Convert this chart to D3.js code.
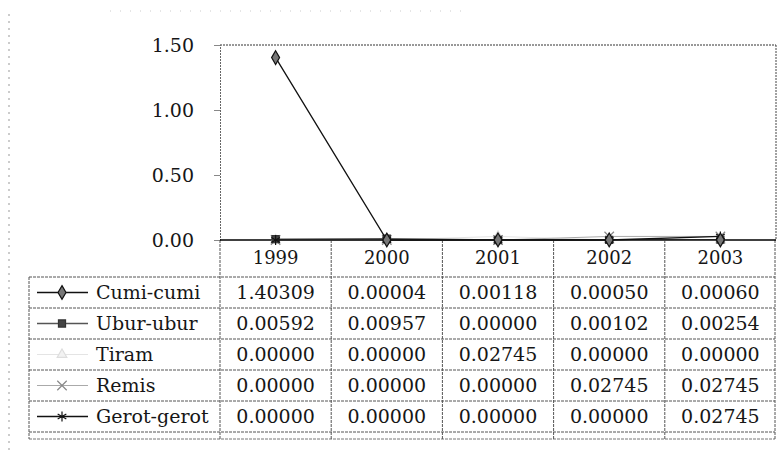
<!DOCTYPE html>
<html lang="id">
<head>
<meta charset="utf-8">
<title>Cumi-cumi, Ubur-ubur, Tiram, Remis, Gerot-gerot 1999-2003</title>
<script src="https://d3js.org/d3.v7.min.js"></script>
<style>
  body { margin: 0; background: #fff; }
  text { font-family: "DejaVu Serif", "Liberation Serif", serif; fill: #161616; }
</style>
</head>
<body>
<svg id="chart" width="779" height="452"></svg>
<script>
// data
var years = ["1999", "2000", "2001", "2002", "2003"];
var seriesNames = ["Cumi-cumi", "Ubur-ubur", "Tiram", "Remis", "Gerot-gerot"];
var cumiCumi   = [1.40309, 0.00004, 0.00118, 0.00050, 0.00060];
var uburUbur   = [0.00592, 0.00957, 0.00000, 0.00102, 0.00254];
var tiram      = [0.00000, 0.00000, 0.02745, 0.00000, 0.00000];
var remis      = [0.00000, 0.00000, 0.00000, 0.02745, 0.02745];
var gerotGerot = [0.00000, 0.00000, 0.00000, 0.00000, 0.02745];
var yTicks = [0, 0.5, 1.0, 1.5];

var seriesValues = [cumiCumi, uburUbur, tiram, remis, gerotGerot];

// look of each series
var looks = {
  "Cumi-cumi":   {line: "#111", width: 1.3, symbol: d3.symbolDiamond, size: 55, fill: "#777", stroke: "#111"},
  "Ubur-ubur":   {line: "#555", width: 1.3, symbol: d3.symbolSquare, size: 50, fill: "#444", stroke: "#333"},
  "Tiram":       {line: "#e4e4e4", width: 1, symbol: d3.symbolTriangle, size: 40, fill: "#f2f2f2", stroke: "#ddd"},
  "Remis":       {line: "#aaa", width: 1, symbol: d3.symbolTimes || d3.symbolCross, size: 60, fill: "none", stroke: "#888"},
  "Gerot-gerot": {line: "#111", width: 1.3, symbol: d3.symbolAsterisk || d3.symbolCross, size: 70, fill: "none", stroke: "#111"}
};

var svg = d3.select("#chart");
svg.append("rect").attr("width", 779).attr("height", 452).attr("fill", "#fff");

var plotTop = 45, plotBottom = 240, plotLeft = 220, plotRight = 776;
var tableLeft = 29, tableTop = 277, tableBottom = 432;

var x = d3.scaleBand().domain(years).range([plotLeft, plotRight]);
var y = d3.scaleLinear().domain([0, 1.5]).range([plotBottom, plotTop]);
var row = d3.scaleBand().domain(seriesNames).range([tableTop, tableBottom]);

// scanned page edge
svg.append("line")
  .attr("x1", 9).attr("x2", 9).attr("y1", 14).attr("y2", 452)
  .attr("stroke", "#999").attr("stroke-dasharray", "2,5");
svg.append("line")
  .attr("x1", 110).attr("x2", 470).attr("y1", 11).attr("y2", 11)
  .attr("stroke", "#ccc").attr("stroke-dasharray", "1,9");

// plot frame
svg.append("line")
  .attr("x1", plotLeft).attr("x2", plotRight).attr("y1", plotTop).attr("y2", plotTop)
  .attr("stroke", "#333").attr("stroke-dasharray", "2,1");
svg.append("line")
  .attr("x1", plotRight).attr("x2", plotRight).attr("y1", plotTop).attr("y2", plotBottom)
  .attr("stroke", "#444").attr("stroke-dasharray", "2,1");

// y axis
var yAxis = svg.append("g")
  .attr("transform", "translate(" + plotLeft + ",0)")
  .call(d3.axisLeft(y).tickValues(yTicks).tickFormat(d3.format(".2f")).tickSize(6).tickPadding(20));
yAxis.select(".domain").attr("stroke", "#666").attr("stroke-dasharray", "2,1");
yAxis.selectAll(".tick line").attr("stroke", "#888");
yAxis.selectAll(".tick text")
  .style("font-family", "'DejaVu Serif', serif").style("font-size", "19px").attr("fill", "#161616");

// table grid
var grid = svg.append("g").attr("stroke", "#555").attr("stroke-width", 1).attr("stroke-dasharray", "3,1");
var rowEdges = seriesNames.map(function(d) { return row(d); }).concat([tableBottom]);
grid.selectAll("line.h").data(rowEdges).enter().append("line")
  .attr("x1", tableLeft).attr("x2", plotRight - 1)
  .attr("y1", function(d) { return d; }).attr("y2", function(d) { return d; });
grid.append("line")
  .attr("x1", tableLeft).attr("x2", plotRight - 1).attr("y1", tableBottom + 7).attr("y2", tableBottom + 7)
  .attr("stroke", "#777");
var colEdges = years.map(function(d) { return x(d); }).concat([plotRight - 1]);
grid.selectAll("line.v").data(colEdges).enter().append("line")
  .attr("x1", function(d) { return d; }).attr("x2", function(d) { return d; })
  .attr("y1", plotBottom).attr("y2", tableBottom + 7);
grid.append("line")
  .attr("x1", tableLeft).attr("x2", tableLeft).attr("y1", tableTop).attr("y2", tableBottom + 7);

// x axis line
svg.append("line")
  .attr("x1", plotLeft).attr("x2", plotRight).attr("y1", plotBottom).attr("y2", plotBottom)
  .attr("stroke", "#000").attr("stroke-width", 1.6);

// year labels
svg.selectAll("text.year").data(years).enter().append("text")
  .attr("class", "year")
  .attr("x", function(d) { return x(d) + x.bandwidth() / 2; })
  .attr("y", 258).attr("dy", "0.35em")
  .attr("text-anchor", "middle").style("font-size", "18px")
  .text(function(d) { return d; });

// series lines and markers
var line = d3.line()
  .x(function(d, i) { return x(years[i]) + x.bandwidth() / 2; })
  .y(function(d) { return y(d); });

var order = [2, 3, 1, 4, 0];
order.forEach(function(k) {
  var name = seriesNames[k], look = looks[name], vals = seriesValues[k];
  svg.append("path").datum(vals)
    .attr("d", line).attr("fill", "none")
    .attr("stroke", look.line).attr("stroke-width", look.width);
  svg.selectAll(null).data(vals).enter().append("path")
    .attr("d", d3.symbol().type(look.symbol).size(look.size))
    .attr("transform", function(d, i) {
      return "translate(" + (x(years[i]) + x.bandwidth() / 2) + "," + y(d) + ")";
    })
    .attr("fill", look.fill).attr("stroke", look.stroke).attr("stroke-width", 1.2);
});

// table rows: legend key, name, values
var rows = svg.selectAll("g.row").data(seriesNames).enter().append("g")
  .attr("class", "row")
  .attr("transform", function(d) { return "translate(0," + (row(d) + row.bandwidth() / 2) + ")"; });

rows.append("line")
  .attr("x1", 37).attr("x2", 88).attr("y1", 0).attr("y2", 0)
  .attr("stroke", function(d) { return looks[d].line; })
  .attr("stroke-width", function(d) { return looks[d].width; });
rows.append("path")
  .attr("d", function(d) { return d3.symbol().type(looks[d].symbol).size(looks[d].size)(); })
  .attr("transform", "translate(62,0)")
  .attr("fill", function(d) { return looks[d].fill; })
  .attr("stroke", function(d) { return looks[d].stroke; })
  .attr("stroke-width", 1.2);
rows.append("text")
  .attr("x", 96).attr("y", 0).attr("dy", "0.35em")
  .style("font-size", "19px")
  .text(function(d) { return d; });

rows.each(function(name, k) {
  d3.select(this).selectAll("text.val").data(seriesValues[k]).enter().append("text")
    .attr("class", "val")
    .attr("x", function(d, i) { return x(years[i]) + x.bandwidth() / 2; })
    .attr("y", 0).attr("dy", "0.35em")
    .attr("text-anchor", "middle").style("font-size", "19px")
    .text(function(d) { return d.toFixed(5); });
});
</script>
</body>
</html>
